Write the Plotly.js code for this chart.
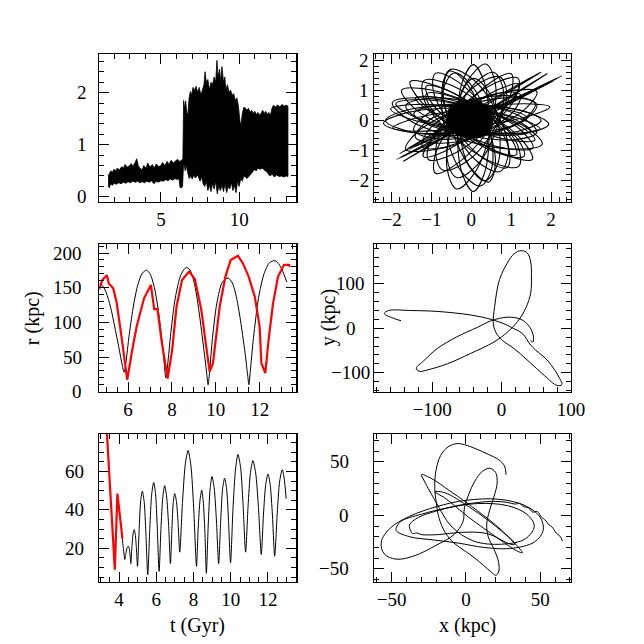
<!DOCTYPE html>
<html>
<head>
<meta charset="utf-8">
<script src="https://cdn.plot.ly/plotly-3.0.1.min.js"></script>
<style>
html, body { margin: 0; padding: 0; background: #fff; }
#chart { width: 644px; height: 644px; }
</style>
</head>
<body>
<div id="chart"></div>
<script>
// ---- panel 1 (top left): envelope of the noisy signal
var bandUpperT = [1.62,1.7,1.8,1.9,2.0,2.1,2.2,2.35,2.5,2.6,2.7,2.85,3.0,3.1,3.2,3.35,3.45,3.55,3.65,3.8,3.9,4.05,4.15,4.3,4.45,4.55,4.7,4.85,5.0,5.1,5.25,5.4,5.5,5.65,5.8,5.95,6.05,6.2,6.3,6.4,
  6.45,6.5,6.58,6.65,6.72,6.8,6.88,6.95,7.05,7.15,7.25,7.35,7.45,7.55,7.65,7.75,7.82,7.9,8.0,8.1,8.2,8.3,8.4,8.5,8.58,8.65,8.75,8.82,8.9,9.0,9.08,9.15,9.25,9.35,9.45,9.55,9.65,9.75,9.85,9.95,10.05,10.12,10.2,10.3,10.4,10.5,10.6,10.7,10.8,10.9,11.0,11.1,11.2,11.3,11.4,11.5,11.6,11.7,11.8,11.9,12.0,12.1,12.2,12.3,12.45,12.6,12.75,12.9,13.0,13.12];
var bandUpperV = [0.40,0.46,0.50,0.47,0.53,0.50,0.55,0.52,0.58,0.55,0.62,0.57,0.60,0.64,0.58,0.66,0.73,0.60,0.55,0.52,0.60,0.55,0.65,0.57,0.62,0.55,0.63,0.58,0.60,0.66,0.60,0.68,0.62,0.70,0.65,0.69,0.72,0.68,0.70,0.72,
  1.85,1.70,1.84,1.62,1.58,1.90,2.02,1.95,2.10,2.05,2.12,2.00,2.10,1.95,2.05,2.15,2.40,2.20,2.25,2.05,2.20,2.15,2.30,2.20,2.62,2.30,2.45,2.20,2.50,2.20,2.30,2.05,2.15,2.00,2.05,1.95,1.98,1.85,1.90,1.75,1.45,1.38,1.60,1.72,1.70,1.66,1.70,1.62,1.66,1.60,1.64,1.58,1.62,1.57,1.60,1.66,1.60,1.64,1.58,1.62,1.56,1.70,1.76,1.72,1.76,1.73,1.77,1.74,1.76,1.74];
var bandLowerT = [1.62,1.7,1.78,1.9,2.0,2.15,2.3,2.45,2.6,2.75,2.9,3.05,3.2,3.35,3.5,3.65,3.8,3.95,4.1,4.25,4.4,4.55,4.7,4.85,5.0,5.15,5.3,5.45,5.6,5.75,5.9,6.05,6.15,6.22,6.3,6.38,
  6.45,6.55,6.6,6.7,6.8,6.9,7.0,7.1,7.2,7.35,7.5,7.6,7.7,7.8,7.9,8.0,8.1,8.2,8.3,8.4,8.5,8.6,8.7,8.8,8.9,9.0,9.1,9.2,9.3,9.4,9.5,9.6,9.7,9.8,9.9,10.0,10.1,10.2,10.3,10.4,10.5,10.6,10.7,10.8,10.9,11.0,11.1,11.2,11.35,11.5,11.65,11.8,11.9,12.0,12.1,12.25,12.4,12.55,12.7,12.85,13.0,13.12];
var bandLowerV = [0.22,0.17,0.25,0.22,0.26,0.24,0.27,0.25,0.28,0.26,0.29,0.27,0.30,0.28,0.30,0.27,0.29,0.27,0.30,0.28,0.31,0.25,0.30,0.28,0.31,0.30,0.33,0.31,0.34,0.32,0.35,0.33,0.35,0.18,0.17,0.20,
  0.65,0.50,0.62,0.48,0.35,0.40,0.34,0.42,0.36,0.42,0.30,0.38,0.25,0.20,0.30,0.12,0.22,0.10,0.25,0.15,0.30,0.06,0.20,0.12,0.22,0.10,0.25,0.08,0.20,0.15,0.28,0.12,0.22,0.08,0.30,0.20,0.35,0.30,0.40,0.38,0.35,0.40,0.42,0.45,0.50,0.52,0.50,0.55,0.53,0.55,0.50,0.47,0.42,0.40,0.44,0.38,0.42,0.39,0.40,0.38,0.40,0.39];

// ---- panel 2 (top right): loops of the inner orbit, null separates loops
var loopsX = [1.4,0.855,-0.42,-1.685,-2.2,-1.655,-0.38,0.885,1.4,null,
  1.94,1.479,0.297,-0.913,-1.44,-0.979,0.203,1.413,1.94,null,
  1.645,0.986,-0.25,-1.34,-1.645,-0.986,0.25,1.34,1.645,null,
  1.0,0.446,-0.34,-0.898,-0.9,-0.346,0.44,0.998,1.0,null,
  0.05,-0.233,-0.35,-0.233,0.05,0.333,0.45,0.333,0.05,null,
  -0.9,-0.942,-0.433,0.33,0.9,0.942,0.433,-0.33,-0.9,null,
  -1.745,-1.44,-0.35,0.886,1.545,1.24,0.15,-1.086,-1.745,null,
  1.646,1.083,-0.055,-1.103,-1.446,-0.883,0.255,1.303,1.646,null,
  1.2,0.675,-0.247,-1.025,-1.2,-0.675,0.247,1.025,1.2,null,
  0.566,0.054,-0.431,-0.606,-0.366,0.146,0.631,0.806,0.566,null,
  -0.542,-0.705,-0.485,-0.009,0.442,0.605,0.385,-0.091,-0.542,null,
  -1.131,-1.0,-0.283,0.6,1.131,1.0,0.283,-0.6,-1.131,null,
  -1.642,-1.261,-0.142,1.061,1.642,1.261,0.142,-1.061,-1.642,null,
  0.052,-0.257,-0.298,-0.047,0.348,0.657,0.698,0.447,0.052,null,
  1.49,1.068,-0.096,-1.322,-1.89,-1.468,-0.304,0.922,1.49,null,
  -1.19,-1.166,-0.46,0.516,1.19,1.166,0.46,-0.516,-1.19,null,
  1.604,1.03,-0.088,-1.096,-1.404,-0.83,0.288,1.296,1.604,null,
  1.97,1.356,-0.052,-1.43,-1.97,-1.356,0.052,1.43,1.97,null,
  1.78,1.362,0.088,-1.296,-1.98,-1.562,-0.288,1.096,1.78,null,
  0.365,-0.09,-0.492,-0.606,-0.365,0.09,0.492,0.606,0.365,null,
  -0.516,-0.734,-0.464,0.136,0.716,0.934,0.664,0.064,-0.516,null,
  -1.532,-1.287,-0.289,0.879,1.532,1.287,0.289,-0.879,-1.532,null,
  -2.022,-1.516,-0.211,1.13,1.722,1.216,-0.089,-1.43,-2.022,null,
  1.175,0.574,-0.333,-1.016,-1.075,-0.474,0.433,1.116,1.175,null,
  1.229,0.666,-0.287,-1.072,-1.229,-0.666,0.287,1.072,1.229,null,
  -0.431,-0.717,-0.642,-0.249,0.231,0.517,0.442,0.049,-0.431,null,
  -1.395,-1.062,-0.048,1.052,1.595,1.262,0.248,-0.852,-1.395,null,
  0.719,0.124,-0.544,-0.892,-0.719,-0.124,0.544,0.892,0.719,null,
  1.75,1.179,-0.2,-1.579,-2.15,-1.579,-0.2,1.179,1.75,null,
  1.326,1.171,0.389,-0.563,-1.126,-0.971,-0.189,0.763,1.326,null,
  -1.86,0.25,2.27,0.15,-1.86,null,
  -1.7,0.2,1.9,0.1,-1.7,null,
  -1.55,0.3,2.05,0.2,-1.55,null,
  -1.8,0.0,1.75,-0.1,-1.8];
var loopsY = [0.09,0.364,0.42,0.236,-0.09,-0.364,-0.42,-0.236,0.09,null,
  -0.13,0.239,0.5,0.493,0.23,-0.139,-0.4,-0.393,-0.13,null,
  0.95,0.978,0.433,-0.366,-0.95,-0.978,-0.433,0.366,0.95,null,
  1.545,1.222,0.125,-1.104,-1.745,-1.422,-0.325,0.904,1.545,null,
  1.85,1.235,-0.25,-1.735,-2.35,-1.735,-0.25,1.235,1.85,null,
  1.559,0.925,-0.25,-1.279,-1.559,-0.925,0.25,1.279,1.559,null,
  1.0,0.416,-0.383,-0.928,-0.9,-0.316,0.483,1.028,1.0,null,
  0.514,0.803,0.68,0.217,-0.314,-0.603,-0.48,-0.017,0.514,null,
  1.2,1.025,0.247,-0.675,-1.2,-1.025,-0.247,0.675,1.2,null,
  1.589,1.179,-0.008,-1.279,-1.889,-1.479,-0.292,0.979,1.589,null,
  1.635,1.014,-0.317,-1.58,-2.035,-1.414,-0.083,1.18,1.635,null,
  1.131,0.6,-0.283,-1.0,-1.131,-0.6,0.283,1.0,1.131,null,
  0.49,-0.015,-0.481,-0.637,-0.39,0.115,0.581,0.737,0.49,null,
  1.393,0.866,-0.344,-1.528,-1.993,-1.466,-0.256,0.928,1.393,null,
  -0.353,0.053,0.486,0.693,0.553,0.147,-0.286,-0.493,-0.353,null,
  1.317,0.629,-0.486,-1.375,-1.517,-0.829,0.286,1.175,1.317,null,
  0.547,0.753,0.517,-0.021,-0.547,-0.753,-0.517,0.021,0.547,null,
  0.448,0.555,0.396,0.063,-0.248,-0.355,-0.196,0.137,0.448,null,
  -0.784,-0.218,0.417,0.75,0.584,0.018,-0.617,-0.95,-0.784,null,
  1.868,1.324,-0.113,-1.6,-2.268,-1.724,-0.287,1.2,1.868,null,
  1.692,1.051,-0.205,-1.341,-1.692,-1.051,0.205,1.341,1.692,null,
  1.286,0.665,-0.345,-1.153,-1.286,-0.665,0.345,1.153,1.286,null,
  0.381,0.04,-0.295,-0.428,-0.281,0.06,0.395,0.528,0.381,null,
  1.391,1.225,0.372,-0.671,-1.291,-1.125,-0.272,0.771,1.391,null,
  0.861,0.899,0.41,-0.319,-0.861,-0.899,-0.41,0.319,0.861,null,
  1.572,0.955,-0.396,-1.691,-2.172,-1.555,-0.204,1.091,1.572,null,
  0.748,0.319,-0.267,-0.667,-0.648,-0.219,0.367,0.767,0.748,null,
  1.44,1.169,0.154,-1.009,-1.64,-1.369,-0.354,0.809,1.44,null,
  0,0.354,0.5,0.354,0,-0.354,-0.5,-0.354,0,null,
  -1.179,-0.633,0.195,0.821,0.879,0.333,-0.495,-1.121,-1.179,null,
  -1.28,0.16,1.48,0.0,-1.28,null,
  -1.35,0.18,1.55,0.05,-1.35,null,
  -0.95,0.25,1.3,0.12,-0.95,null,
  -1.1,0.3,1.6,0.15,-1.1];
var coreX = [-0.62,-0.55,-0.3,0.05,0.35,0.52,0.5,0.28,-0.08,-0.4,-0.6,-0.62];
var coreY = [0.08,0.42,0.62,0.68,0.52,0.18,-0.25,-0.52,-0.6,-0.45,-0.2,0.08];

// ---- panel 3 (middle left): r(t), model (black) and data (red)
var rModelT = [4.70,4.85,5.0,5.2,5.4,5.6,5.72,5.82,5.9,6.05,6.25,6.45,6.65,6.84,7.0,7.2,7.4,7.55,7.65,7.72,7.8,7.95,8.15,8.4,8.6,8.7,8.85,9.05,9.25,9.45,9.58,9.65,9.72,9.85,10.05,10.3,10.56,10.75,10.95,11.15,11.35,11.46,11.51,11.57,11.72,11.95,12.2,12.45,12.7,12.9,13.1,13.24];
var rModelR = [155,152,143,122,92,60,40,28,42,82,125,155,171,175,170,150,112,72,40,20,38,85,135,168,178,179,174,152,112,62,28,10,30,78,128,158,164,157,135,98,52,22,10,28,78,135,170,186,189,183,170,158];
var rDataT = [4.67,4.82,5.03,5.12,5.32,5.47,5.70,5.96,6.16,6.39,6.73,7.04,7.19,7.34,7.52,7.80,8.01,8.21,8.46,8.78,9.04,9.34,9.52,9.72,9.87,10.18,10.44,10.68,11.01,11.24,11.50,11.78,12.0,12.08,12.26,12.41,12.61,12.84,13.11,13.34,13.38];
var rDataR = [147,161,168,156,149,130,79,17,55,94,135,154,119,119,75,19,60,123,161,173,163,118,75,29,41,123,166,190,196,185,166,137,94,41,27,75,127,166,183,183,180];

// ---- panel 4 (middle right): y(x) of the orbit
var orbitMidX = [-145,-155,-169,-163,-130,-93,-45,-15,5,14,30,43,67,84,87,80,62,38,18,1,-8,-12,-10,-3,9,18,28,37,42,43,42,35,23,9,-11,-45,-78,-107,-119,-123,-112,-93,-64,-35,-15,9,28,40,46,45,42];
var orbitMidY = [17,22,33,40,40,38,30,20,9,2,-12,-40,-74,-114,-127,-129,-107,-73,-46,-27,-10,11,49,110,149,168,175,170,149,118,80,46,15,-8,-31,-57,-80,-94,-97,-90,-73,-46,-19,2,17,25,20,4,-19,-31,-28];

// ---- panel 5 (bottom left): r(t) of the inner orbit
var rInnerT = [4.15,4.23,4.31,4.37,4.43,4.49,4.54,4.59,4.63,4.69,4.75,4.81,4.87,4.93,4.99,5.08,5.16,5.25,5.35,5.44,5.54,5.65,5.75,5.86,5.96,6.05,6.15,6.25,6.35,6.45,6.55,6.66,6.76,6.84,6.91,6.99,7.08,7.17,7.26,7.41,7.56,7.71,7.86,8.01,8.16,8.25,8.35,8.44,8.52,8.61,8.69,8.79,8.89,8.99,9.11,9.23,9.35,9.46,9.56,9.67,9.78,9.88,9.99,10.12,10.26,10.39,10.53,10.66,10.80,10.93,11.06,11.19,11.34,11.49,11.64,11.76,11.88,12.0,12.12,12.24,12.36,12.5,12.63,12.77,12.87,12.98];
var rInnerR = [27,20,14.2,17.7,20.3,21.2,20,16.5,12,20.9,27.4,29.7,27.2,20.2,10.6,30.2,44.7,49.8,44,28,6.2,30.3,48,54.3,48.3,31.2,8,30.3,46.8,52.6,47.3,32.3,12,30.3,43.8,48.5,44.5,33.3,18,44.5,64,70.9,63.1,40.8,10.6,30.5,45.1,50.3,44.7,28.7,7,32.2,50.8,57.4,51.5,34.7,12,34.3,50.7,56.5,50.8,34.5,12.4,40.6,61.5,68.8,62.2,43.4,18,41.8,59.4,65.6,59.2,41.2,16.8,37.8,53.3,58.7,53.1,37.3,15.9,38.4,55,60.9,56.5,45.9];
var rEarlyT = [3.30,3.77,3.91,4.18];
var rEarlyR = [88,8.9,48.5,25];

// ---- panel 6 (bottom right): y(x) of the inner orbit
var orbitLowX = [27,26,22,15,7,-1,-6,-12,-17,-20,-21,-20,-18,-14,-8,-1,6,12,17,20,22,22,19,15,14,16,19,21,20,16,11,6,2,-1,-2,
  -8,-20,-35,-47,-55,-57,-51,-38,-20,0,22,40,50,52,46,30,12,-5,
  -22,-38,-47,-44,-30,-12,8,28,41,46,40,24,5,
  -10,-20,-28,-30,-24,-10,8,24,38,34,18,2,-14,-21,-14,2,18,33,30,14,
  -4,-18,-30,-33,-36,-37,-38,-32,-20,-6,8,20,28,33,36,39,42,45,48,51,53,56,58,61,63,65];
var orbitLowY = [38,46,52,57,62,66,67,64,56,43,28,12,-3,-16,-26,-33,-40,-47,-53,-56,-53,-44,-32,-20,-8,5,18,30,40,44,41,32,20,7,-6,
  -18,-28,-38,-41,-36,-25,-12,-1,8,14,15,9,-2,-14,-25,-31,-30,-26,
  -23,-20,-14,-6,1,7,11,9,1,-10,-22,-27,-24,
  -10,12,32,38,35,22,4,-14,-35,-33,-18,-2,16,22,21,8,-8,-27,-27,-17,
  -16,-18,-18,-16.5,-17,-15,-9,-2,4,9,12,13,12,10.5,11,8,7,3,3.5,-2,-4,-9,-11,-17,-19,-24];

// ---- y tick labels of each panel
var p1YTicks = [0, 1, 2];
var p2YTicks = [-2, -1, 0, 1, 2];
var p3YTicks = [0, 50, 100, 150, 200];
var p4YTicks = [-100, 0, 100];
var p5YTicks = [20, 40, 60];
var p6YTicks = [-50, 0, 50];

var FONT = 'Liberation Serif';
var black = '#000000';
var red = '#ff0000';

function axis(domain, range, dtick, minorStep, anchor, labels) {
  return {
    domain: domain, range: range, anchor: anchor,
    tickmode: 'linear', tick0: 0, dtick: dtick,
    ticks: 'inside', ticklen: 10, tickwidth: 1, tickcolor: black,
    minor: { tickmode: 'linear', ticks: 'inside', ticklen: 5, tickwidth: 1, tickcolor: black, dtick: minorStep, tick0: 0, showgrid: false },
    showline: true, linecolor: black, linewidth: 1.3, mirror: 'allticks',
    showgrid: false, zeroline: false,
    showticklabels: labels,
    tickfont: { family: FONT, size: 19, color: black },
    fixedrange: true
  };
}

var colL = [0.154, 0.460], colR = [0.5807, 0.8866];
var rowT = [0.6863, 0.9161], rowM = [0.3918, 0.6211], rowB = [0.0970, 0.3261];

var bandX = bandUpperT.concat(bandLowerT.slice().reverse());
var bandY = bandUpperV.concat(bandLowerV.slice().reverse());

var data = [
  { x: bandX, y: bandY, xaxis: 'x', yaxis: 'y', type: 'scatter', mode: 'lines', fill: 'toself', fillcolor: black, line: { color: black, width: 0.8 }, hoverinfo: 'skip' },
  { x: loopsX, y: loopsY, xaxis: 'x2', yaxis: 'y2', type: 'scatter', mode: 'lines', connectgaps: false, line: { color: black, width: 1.1, shape: 'spline' }, hoverinfo: 'skip' },
  { x: coreX, y: coreY, xaxis: 'x2', yaxis: 'y2', type: 'scatter', mode: 'lines', fill: 'toself', fillcolor: black, line: { color: black, width: 1 }, hoverinfo: 'skip' },
  { x: rModelT, y: rModelR, xaxis: 'x3', yaxis: 'y3', type: 'scatter', mode: 'lines', line: { color: black, width: 1, shape: 'spline', smoothing: 0.8 } },
  { x: rDataT, y: rDataR, xaxis: 'x3', yaxis: 'y3', type: 'scatter', mode: 'lines', line: { color: red, width: 2.2 } },
  { x: orbitMidX, y: orbitMidY, xaxis: 'x4', yaxis: 'y4', type: 'scatter', mode: 'lines', line: { color: black, width: 1, shape: 'spline' } },
  { x: rInnerT, y: rInnerR, xaxis: 'x5', yaxis: 'y5', type: 'scatter', mode: 'lines', line: { color: black, width: 1, shape: 'spline', smoothing: 0.7 } },
  { x: rEarlyT, y: rEarlyR, xaxis: 'x5', yaxis: 'y5', type: 'scatter', mode: 'lines', line: { color: red, width: 2.2 } },
  { x: orbitLowX, y: orbitLowY, xaxis: 'x6', yaxis: 'y6', type: 'scatter', mode: 'lines', line: { color: black, width: 1, shape: 'spline' } }
];

var titleFont = { family: FONT, size: 20, color: black };
var tickFont = { family: FONT, size: 19, color: black };

// y tick labels placed by hand so they sit where the reference puts them
function yLabels(values, yref, xPx, anchor) {
  return values.map(function (v) {
    return { text: v < 0 ? '\u2212' + Math.abs(v) : String(v), xref: 'paper', yref: yref, x: xPx / 644, y: v,
      xanchor: anchor, yanchor: 'middle', showarrow: false, font: tickFont };
  });
}

var annotations = [
  { text: 'r (kpc)', xref: 'paper', yref: 'paper', x: 32 / 644, y: 0.506, xanchor: 'center', yanchor: 'middle', showarrow: false, textangle: -90, font: titleFont },
  { text: 'y (kpc)', xref: 'paper', yref: 'paper', x: 328 / 644, y: 0.506, xanchor: 'center', yanchor: 'middle', showarrow: false, textangle: -90, font: titleFont },
  { text: 't (Gyr)', xref: 'paper', yref: 'paper', x: 0.307, y: 0.0295, xanchor: 'center', yanchor: 'middle', showarrow: false, font: titleFont },
  { text: 'x (kpc)', xref: 'paper', yref: 'paper', x: 0.7267, y: 0.0295, xanchor: 'center', yanchor: 'middle', showarrow: false, font: titleFont }
].concat(
  yLabels(p1YTicks, 'y', 89, 'right'),
  yLabels(p2YTicks, 'y2', 371, 'right'),
  yLabels(p3YTicks, 'y3', 84, 'right'),
  yLabels(p4YTicks, 'y4', 351, 'center'),
  yLabels(p5YTicks, 'y5', 86, 'right'),
  yLabels(p6YTicks, 'y6', 351, 'right')
);

var layout = {
  width: 644, height: 644,
  margin: { l: 0, r: 0, t: 0, b: 0 },
  paper_bgcolor: '#ffffff', plot_bgcolor: '#ffffff',
  showlegend: false,
  xaxis:  axis(colL, [1.05, 13.65], 5, 1, 'y', true),
  yaxis:  axis(rowT, [-0.1, 2.74], 1, 0.2, 'x', false),
  xaxis2: axis(colR, [-2.44, 2.5], 1, 0.2, 'y2', true),
  yaxis2: axis(rowT, [-2.7, 2.2], 1, 0.2, 'x2', false),
  xaxis3: axis(colL, [4.68, 13.67], 2, 0.5, 'y3', true),
  yaxis3: axis(rowM, [0, 213], 50, 10, 'x3', false),
  xaxis4: axis(colR, [-184, 100], 100, 20, 'y4', true),
  yaxis4: axis(rowM, [-143, 190], 100, 20, 'x4', false),
  xaxis5: axis(colL, [2.93, 13.52], 2, 0.5, 'y5', true),
  yaxis5: axis(rowB, [2.7, 79.5], 20, 5, 'x5', false),
  xaxis6: axis(colR, [-61.9, 70.7], 50, 10, 'y6', true),
  yaxis6: axis(rowB, [-61.9, 76], 50, 10, 'x6', false),
  annotations: annotations
};

Plotly.newPlot('chart', data, layout, { staticPlot: true, displayModeBar: false });
</script>
</body>
</html>
